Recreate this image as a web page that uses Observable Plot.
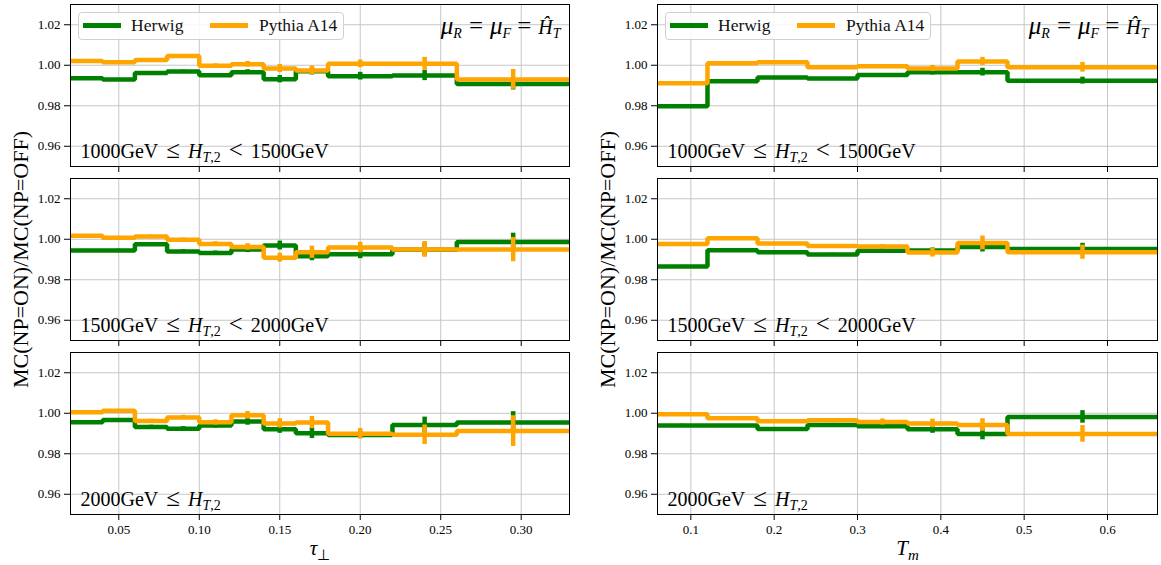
<!DOCTYPE html>
<html><head><meta charset="utf-8">
<script src="https://cdn.jsdelivr.net/npm/d3@7"></script>
<script src="https://cdn.jsdelivr.net/npm/@observablehq/plot@0.6"></script>
<style>
body{margin:0;background:#fff;}
#chart{position:relative;width:1161px;height:565px;overflow:hidden;font-family:"Liberation Serif",serif;background:#fff;}
#chart svg{position:absolute;}
.legend{position:absolute;box-sizing:border-box;border:1px solid #d0d0d0;border-radius:4px;background:rgba(255,255,255,0.85);}
.legend .sw{position:absolute;height:4.5px;width:38px;}
.legend .lb{position:absolute;font-family:"Liberation Serif",serif;font-size:17.5px;line-height:17px;color:#111;white-space:nowrap;}
</style></head><body><div id="chart"></div>
<script>
// ---------------- data ----------------
const seriesNames = ["Herwig", "Pythia A14"];
const seriesColors = ["#008000", "#FFA500"];

const tauEdges = [0.02, 0.04, 0.06, 0.08, 0.10, 0.12, 0.14, 0.16, 0.18, 0.22, 0.26, 0.33];
const tmEdges  = [0.06, 0.12, 0.18, 0.24, 0.30, 0.36, 0.42, 0.48, 0.66];

// tau_perp panels (rows: HT2 slices)
const herwigTau1 = [0.9936, 0.9930, 0.9962, 0.9969, 0.9951, 0.9966, 0.9931, 0.9970, 0.9946, 0.9949, 0.9908];
const pythiaTau1 = [1.0021, 1.0015, 1.0026, 1.0046, 0.9998, 1.0005, 0.9984, 0.9974, 1.0007, 1.0007, 0.9930];
const herwigTauErr1 = [0.0005, 0.0005, 0.0006, 0.0007, 0.0008, 0.0012, 0.0018, 0.0018, 0.0019, 0.0025, 0.0030];
const pythiaTauErr1 = [0.0005, 0.0005, 0.0006, 0.0007, 0.0009, 0.0014, 0.0020, 0.0022, 0.0019, 0.0032, 0.0049];

const herwigTau2 = [0.9944, 0.9945, 0.9975, 0.9940, 0.9932, 0.9949, 0.9969, 0.9916, 0.9926, 0.9948, 0.9987];
const pythiaTau2 = [1.0017, 1.0008, 1.0013, 0.9997, 0.9977, 0.9962, 0.9909, 0.9936, 0.9959, 0.9950, 0.9949];
const herwigTauErr2 = [0.0006, 0.0006, 0.0008, 0.0009, 0.0010, 0.0015, 0.0022, 0.0022, 0.0022, 0.0030, 0.0043];
const pythiaTauErr2 = [0.0006, 0.0006, 0.0008, 0.0009, 0.0011, 0.0016, 0.0022, 0.0030, 0.0026, 0.0039, 0.0060];

const herwigTau3 = [0.9955, 0.9967, 0.9932, 0.9924, 0.9939, 0.9959, 0.9921, 0.9901, 0.9893, 0.9942, 0.9954];
const pythiaTau3 = [1.0005, 1.0012, 0.9962, 0.9979, 0.9955, 0.9990, 0.9950, 0.9954, 0.9899, 0.9894, 0.9912];
const herwigTauErr3 = [0.0007, 0.0007, 0.0009, 0.0010, 0.0012, 0.0018, 0.0020, 0.0026, 0.0018, 0.0039, 0.0054];
const pythiaTauErr3 = [0.0007, 0.0007, 0.0009, 0.0011, 0.0013, 0.0019, 0.0023, 0.0030, 0.0026, 0.0048, 0.0076];

// T_m panels
const herwigTm1 = [0.9797, 0.9921, 0.9939, 0.9934, 0.9952, 0.9965, 0.9966, 0.9924];
const pythiaTm1 = [0.9911, 1.0010, 1.0015, 0.9990, 0.9995, 0.9984, 1.0019, 0.9990];
const herwigTmErr1 = [0.0004, 0.0004, 0.0004, 0.0005, 0.0007, 0.0013, 0.0019, 0.0017];
const pythiaTmErr1 = [0.0004, 0.0004, 0.0004, 0.0005, 0.0008, 0.0015, 0.0020, 0.0024];

const herwigTm2 = [0.9866, 0.9946, 0.9936, 0.9925, 0.9943, 0.9944, 0.9962, 0.9952];
const pythiaTm2 = [0.9977, 1.0005, 0.9979, 0.9967, 0.9964, 0.9934, 0.9982, 0.9936];
const herwigTmErr2 = [0.0005, 0.0005, 0.0005, 0.0006, 0.0009, 0.0013, 0.0025, 0.0028];
const pythiaTmErr2 = [0.0005, 0.0005, 0.0005, 0.0006, 0.0010, 0.0022, 0.0034, 0.0035];

const herwigTm3 = [0.9940, 0.9939, 0.9922, 0.9942, 0.9936, 0.9921, 0.9898, 0.9982];
const pythiaTm3 = [0.9995, 0.9975, 0.9960, 0.9965, 0.9957, 0.9950, 0.9942, 0.9898];
const herwigTmErr3 = [0.0006, 0.0006, 0.0006, 0.0008, 0.0012, 0.0020, 0.0029, 0.0031];
const pythiaTmErr3 = [0.0006, 0.0006, 0.0006, 0.0008, 0.0015, 0.0021, 0.0031, 0.0041];

const tauTicks = [0.05, 0.10, 0.15, 0.20, 0.25, 0.30];
const tmTicks = [0.1, 0.2, 0.3, 0.4, 0.5, 0.6];
const yTicks = [0.96, 0.98, 1.00, 1.02];
const yDomain = [0.95, 1.03];
const tauDomain = [0.02, 0.33];
const tmDomain = [0.06, 0.66];

// rich-text labels: [text, flags (i = italic, s = subscript, b = big symbol), spaceBefore]
const htLabels = [
  [["1000GeV", ""], ["≤", "b", 8], ["H", "i", 8], ["T", "is"], [",2", "s"], ["<", "b", 8], ["1500GeV", "", 8]],
  [["1500GeV", ""], ["≤", "b", 8], ["H", "i", 8], ["T", "is"], [",2", "s"], ["<", "b", 8], ["2000GeV", "", 8]],
  [["2000GeV", ""], ["≤", "b", 8], ["H", "i", 8], ["T", "is"], [",2", "s"]]
];
const scaleLabel = [["μ", "ib"], ["R", "is"], ["=", "b", 7], ["μ", "ib", 7], ["F", "is"], ["=", "b", 6], ["Ĥ", "i", 7], ["T", "is"]];
const tauLabel = [["τ", "i"], ["⊥", "s"]];
const tmLabel = [["T", "i"], ["m", "is"]];
const yLabel = [["MC(NP=ON)/MC(NP=OFF)", ""]];

// ---------------- drawing ----------------
const plain = parts => parts.map(p => p[0]).join(" ");

const columns = [
  {left: 0, width: 575, ml: 70, mr: 6, edges: tauEdges, domain: tauDomain, ticks: tauTicks, fmt: d3.format(".2f"), xLabel: tauLabel,
   rows: [[herwigTau1, pythiaTau1, herwigTauErr1, pythiaTauErr1], [herwigTau2, pythiaTau2, herwigTauErr2, pythiaTauErr2], [herwigTau3, pythiaTau3, herwigTauErr3, pythiaTauErr3]]},
  {left: 580, width: 581, ml: 77, mr: 4, edges: tmEdges, domain: tmDomain, ticks: tmTicks, fmt: d3.format(".1f"), xLabel: tmLabel,
   rows: [[herwigTm1, pythiaTm1, herwigTmErr1, pythiaTmErr1], [herwigTm2, pythiaTm2, herwigTmErr2, pythiaTmErr2], [herwigTm3, pythiaTm3, herwigTmErr3, pythiaTmErr3]]}
];
const rowTops = [4, 178, 352];
const frameH = 162;
const MT = 4;

function stepData(edges, vals) {
  return edges.map((e, i) => ({x: e, y: vals[Math.min(i, vals.length - 1)]}));
}
function barData(edges, vals, errs) {
  return vals.map((v, i) => ({x: (edges[i] + edges[i + 1]) / 2, lo: v - errs[i], hi: v + errs[i]}));
}

function setRich(textEl, parts, size) {
  const sel = d3.select(textEl);
  sel.selectAll("*").remove();
  sel.text(null);
  let shift = 0;
  const subShift = Math.round(size * 0.22);
  for (const [t, f, gap] of parts) {
    const isSub = f.includes("s");
    const target = isSub ? subShift : 0;
    const ts = sel.append("tspan").text(t);
    if (target - shift !== 0) ts.attr("dy", target - shift);
    if (gap) ts.attr("dx", gap);
    if (isSub) ts.attr("font-size", Math.round(size * 0.72));
    if (f.includes("b")) ts.attr("font-size", Math.round(size * 1.25));
    if (f.includes("i")) ts.attr("font-style", "italic");
    shift = target;
  }
}

const chart = document.getElementById("chart");

columns.forEach((col, ci) => {
  col.rows.forEach((rowData, ri) => {
    const [hv, pv, he, pe] = rowData;
    const bottom = ri === 2;
    const MB = bottom ? 50 : 8;
    const rich = new Map();
    rich.set(plain(htLabels[ri]), [htLabels[ri], 20]);
    if (ri === 0) rich.set(plain(scaleLabel), [scaleLabel, 20]);
    if (bottom) rich.set(plain(col.xLabel), [col.xLabel, 21]);
    if (ri === 1) rich.set(plain(yLabel), [yLabel, 22]);

    const svg = Plot.plot({
      width: col.width,
      height: MT + frameH + MB,
      marginLeft: col.ml, marginRight: col.mr, marginTop: MT, marginBottom: MB,
      style: {fontFamily: "'Liberation Serif', serif", fontSize: "13px", color: "black", background: "transparent", overflow: "visible"},
      x: {domain: col.domain},
      y: {domain: yDomain},
      marks: [
        Plot.gridX(col.ticks, {stroke: "#c6c6c6", strokeOpacity: 1, strokeWidth: 1}),
        Plot.gridY(yTicks, {stroke: "#c6c6c6", strokeOpacity: 1, strokeWidth: 1}),
        Plot.line(stepData(col.edges, hv), {x: "x", y: "y", curve: "step-after", stroke: seriesColors[0], strokeWidth: 4.5, strokeLinejoin: "miter", strokeLinecap: "butt", clip: true}),
        Plot.ruleX(barData(col.edges, hv, he), {x: "x", y1: "lo", y2: "hi", stroke: seriesColors[0], strokeWidth: 4.5}),
        Plot.line(stepData(col.edges, pv), {x: "x", y: "y", curve: "step-after", stroke: seriesColors[1], strokeWidth: 4.5, strokeLinejoin: "miter", strokeLinecap: "butt", clip: true}),
        Plot.ruleX(barData(col.edges, pv, pe), {x: "x", y1: "lo", y2: "hi", stroke: seriesColors[1], strokeWidth: 4.5}),
        Plot.text([plain(htLabels[ri])], {text: d => d, frameAnchor: "bottom-left", dx: 10, dy: -9, fontSize: 20, fill: "black"}),
        ri === 0 ? Plot.text([plain(scaleLabel)], {text: d => d, frameAnchor: "top-right", dx: -9, dy: 15, fontSize: 20, fill: "black"}) : null,
        Plot.frame({stroke: "black", strokeWidth: 1}),
        Plot.axisX(col.ticks, {tickSize: 6, tickPadding: 4, tickFormat: bottom ? col.fmt : () => "", label: bottom ? plain(col.xLabel) : null, labelAnchor: "center", labelOffset: 40, labelArrow: "none"}),
        Plot.axisY(yTicks, {tickSize: 6, tickPadding: 4, tickFormat: d3.format(".2f"), label: ri === 1 ? plain(yLabel) : null, labelAnchor: "center", labelOffset: 58, labelArrow: "none"})
      ]
    });
    svg.style.left = col.left + "px";
    svg.style.top = (rowTops[ri] - MT) + "px";
    d3.select(svg).selectAll("text").each(function () {
      const key = this.textContent.replace(/[↑→←↓]/g, "").trim();
      if (rich.has(key)) {
        const [parts, size] = rich.get(key);
        d3.select(this).attr("font-size", size);
        d3.select(this.parentNode).attr("font-size", size);
        setRich(this, parts, size);
      }
    });
    chart.appendChild(svg);

    if (ri === 0) {
      const lg = document.createElement("div");
      lg.className = "legend";
      const x0 = col.left + col.ml + 8;
      lg.style.left = x0 + "px";
      lg.style.top = "12px";
      lg.style.width = "266px";
      lg.style.height = "28px";
      const offs = [[4, 52], [131, 180]];
      seriesNames.forEach((name, si) => {
        const sw = document.createElement("div");
        sw.className = "sw";
        sw.style.left = offs[si][0] + "px";
        sw.style.top = "10px";
        sw.style.background = seriesColors[si];
        lg.appendChild(sw);
        const lb = document.createElement("div");
        lb.className = "lb";
        lb.style.left = offs[si][1] + "px";
        lb.style.top = "4px";
        lb.textContent = name;
        lg.appendChild(lb);
      });
      chart.appendChild(lg);
    }
  });
});
</script></body></html>
